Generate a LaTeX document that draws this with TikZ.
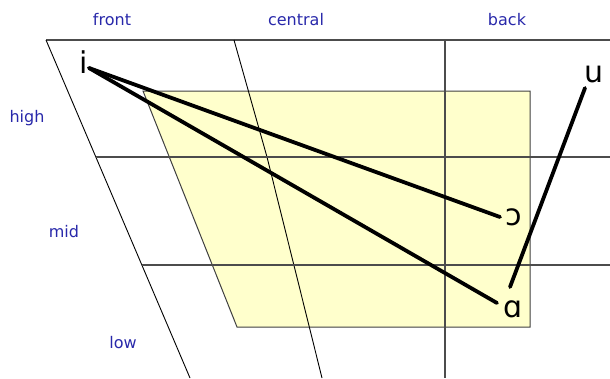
\documentclass[tikz,border=0pt]{standalone}
\usepackage{fontspec}
\setmainfont{DejaVu Sans}
\begin{document}
\begin{tikzpicture}[x=1pt,y=-1pt,
  axislabel/.style={text=labelblue,font=\fontsize{16}{17}\selectfont,inner sep=0pt,anchor=base},
  vowel/.style={text=black,font=\fontsize{30}{32}\selectfont,inner sep=0pt,anchor=base},
  thinline/.style={black,line width=0.9pt},
  gridline/.style={black!70,line width=1.3pt},
  trajectory/.style={black,line width=3.8pt,line cap=round}]
\definecolor{labelblue}{RGB}{40,40,170}
\definecolor{paleyellow}{RGB}{255,255,204}
\useasboundingbox (0,0) rectangle (610,378);
% vowel space area
\filldraw[fill=paleyellow,draw=black!75,line width=1pt] (143,91) -- (530,91) -- (530,327) -- (237,327) -- cycle;
% grid
\coordinate (tl) at (46,40);
\coordinate (tr) at (610,40);
\coordinate (lb) at (190,378);
\coordinate (ct) at (234,40);
\coordinate (cm) at (267,157);
\coordinate (cb) at (322,378);
\coordinate (bt) at (445,40);
\coordinate (bb) at (445,378);
\coordinate (h1l) at (96,157);
\coordinate (h1r) at (610,157);
\coordinate (h2l) at (142,265);
\coordinate (h2r) at (610,265);
\draw[gridline] (tl) -- (tr);
\draw[thinline] (tl) -- (lb);
\draw[thinline] (ct) -- (cm) -- (cb);
\draw[gridline] (bt) -- (bb);
\draw[gridline] (h1l) -- (h1r);
\draw[gridline] (h2l) -- (h2r);
% axis labels
\node[axislabel] (front) at (112,25) {front};
\node[axislabel] (central) at (296,25) {central};
\node[axislabel] (back) at (507,25) {back};
\node[axislabel] (high) at (27,122) {high};
\node[axislabel] (mid) at (64,237) {mid};
\node[axislabel] (low) at (123,348) {low};
% vowels
\node[vowel] (i) at (84,73) {i};
\node[vowel] (u) at (594,82) {u};
\node[vowel] (o) at (514,225) {ɔ};
\node[vowel] (a) at (513,317) {ɑ};
\coordinate (iS) at (89,68);
\coordinate (oE) at (500,217);
\coordinate (aE) at (497,303);
\coordinate (uS) at (585,88);
\coordinate (uE) at (510,287);
\draw[trajectory] (iS) -- (oE);
\draw[trajectory] (iS) -- (aE);
\draw[trajectory] (uS) -- (uE);
\end{tikzpicture}
\end{document}
